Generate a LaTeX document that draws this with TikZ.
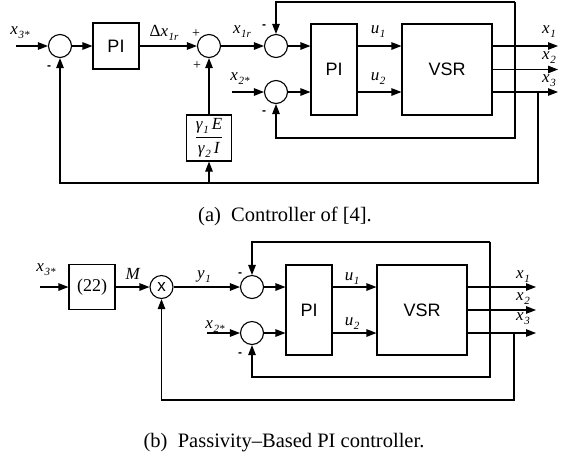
\documentclass[tikz,border=0pt]{standalone}
\usepackage{fontspec}
\setmainfont{Liberation Serif}
\newfontfamily\arialf{Liberation Sans}
\usetikzlibrary{arrows.meta}
\newcommand\vr[2]{\textit{#1}\kern0.5pt\raisebox{-0.5ex}{\fontsize{11}{11}\selectfont\textit{#2}}}
\tikzset{
  box/.style={draw, inner sep=0pt, font=\arialf\fontsize{18}{18}\selectfont},
  sum/.style={circle, draw, minimum size=23pt, inner sep=0pt},
  lbl/.style={inner sep=0pt, font=\fontsize{17}{17}\selectfont},
  sgn/.style={inner sep=0pt, font=\arialf\bfseries\fontsize{12}{12}\selectfont},
  pls/.style={inner sep=0pt, font=\fontsize{14}{14}\selectfont},
  captext/.style={inner sep=0pt, font=\fontsize{20.5}{20.5}\selectfont},
}
\begin{document}
\begin{tikzpicture}[x=1pt, y=-1pt, line width=1.1pt, >={Triangle[length=10pt,width=7.5pt]}]
\useasboundingbox (0,0) rectangle (561,459);
% ---------------- (a) ----------------
\node[sum] (s1) at (60,46) {};
\node[box, minimum width=46pt, minimum height=46pt] (pi1) at (116,46) {PI};
\node[sum] (s2) at (209,46) {};
\node[sum] (s3) at (276,46) {};
\node[sum] (s4) at (276,92) {};
\node[box, minimum width=46pt, minimum height=91pt] (pi2) at (334,69.5) {PI};
\node[box, minimum width=90pt, minimum height=91pt] (vsr) at (447,69.5) {VSR};
\node[draw, inner sep=0pt, minimum width=45pt, minimum height=46pt, font=\fontsize{17}{17}\selectfont] (gain) at (209,138)
  {$\displaystyle\frac{\mbox{\vr{γ}{1}\,\textit{E}}}{\mbox{\vr{γ}{2}\,\textit{I}}}$};
\coordinate (in1) at (16,46);
\coordinate (in2) at (232,92);
\coordinate (o1) at (558,46);
\coordinate (o2) at (558,69.5);
\coordinate (o3) at (558,92);
\coordinate (lt) at (515,2);
\coordinate (lb) at (515,138);
\coordinate (t3) at (538,92);
\coordinate (b3) at (538,183);
\draw[->] (in1) -- (s1);
\draw[->] (s1) -- (pi1);
\draw[->] (pi1) -- (s2);
\draw[->] (s2) -- (s3);
\draw[->] (in2) -- (s4);
\draw[->] (s3) -- (s3 -| pi2.west);
\draw[->] (s4) -- (s4 -| pi2.west);
\draw[->] (s3 -| pi2.east) -- (s3 -| vsr.west);
\draw[->] (s4 -| pi2.east) -- (s4 -| vsr.west);
\draw[->] (s3 -| vsr.east) -- (o1);
\draw[->] (vsr.east) -- (o2);
\draw[->] (s4 -| vsr.east) -- (o3);
\draw[->] (lt) -- (s3 |- lt) -- (s3);
\draw[->] (lt) -- (lb) -- (s4 |- lb) -- (s4);
\draw[->] (t3) -- (b3) -- (s1 |- b3) -- (s1);
\draw[->] (gain |- b3) -- (gain);
\draw[->] (gain) -- (s2);
% labels (a)
\node[lbl] (la1) at (20,33) {\vr{x}{3*}};
\node[sgn] (la2) at (49,68) {-};
\node[lbl] (la3) at (164,33) {Δ\vr{x}{1r}};
\node[pls] (la4) at (196,34) {+};
\node[pls] (la5) at (197,66) {+};
\node[lbl] (la6) at (242,32) {\vr{x}{1r}};
\node[sgn] (la7) at (264,27) {-};
\node[lbl] (la8) at (240,79) {\vr{x}{2*}};
\node[sgn] (la9) at (264,113) {-};
\node[lbl] (la10) at (378,32) {\vr{u}{1}};
\node[lbl] (la11) at (378,79) {\vr{u}{2}};
\node[lbl] (la12) at (549,32) {\vr{x}{1}};
\node[lbl] (la13) at (549,58) {\vr{x}{2}};
\node[lbl] (la14) at (549,81) {\vr{x}{3}};
\node[captext] (capa) at (285,216) {(a)\hspace{0.5em}Controller of [4].};
% ---------------- (b) ----------------
\node[box, font=\fontsize{18}{18}\selectfont, minimum width=46pt, minimum height=45pt] (g22) at (92,287) {(22)};
\node[sum, font=\arialf\fontsize{17}{17}\selectfont] (mx) at (161.5,287) {x};
\node[sum] (s3b) at (252,287) {};
\node[sum] (s4b) at (252,333) {};
\node[box, minimum width=46pt, minimum height=90pt] (pi2b) at (309,310) {PI};
\node[box, minimum width=90pt, minimum height=90pt] (vsrb) at (422,310) {VSR};
\coordinate (in1b) at (40,287);
\coordinate (in2b) at (207,333);
\coordinate (o1b) at (536,287);
\coordinate (o2b) at (536,310);
\coordinate (o3b) at (536,333);
\coordinate (ltb) at (490,242);
\coordinate (lbb) at (490,377);
\coordinate (t3b) at (514,333);
\coordinate (b3b) at (514,400);
\draw[->] (in1b) -- (g22);
\draw[->] (g22) -- (mx);
\draw[->] (mx) -- (s3b);
\draw[->] (in2b) -- (s4b);
\draw[->] (s3b) -- (s3b -| pi2b.west);
\draw[->] (s4b) -- (s4b -| pi2b.west);
\draw[->] (s3b -| pi2b.east) -- (s3b -| vsrb.west);
\draw[->] (s4b -| pi2b.east) -- (s4b -| vsrb.west);
\draw[->] (s3b -| vsrb.east) -- (o1b);
\draw[->] (vsrb.east) -- (o2b);
\draw[->] (s4b -| vsrb.east) -- (o3b);
\draw[->] (ltb) -- (s3b |- ltb) -- (s3b);
\draw[->] (ltb) -- (lbb) -- (s4b |- lbb) -- (s4b);
\draw[->] (t3b) -- (b3b) -- (mx |- b3b) -- (mx);
% labels (b)
\node[lbl] (lb1) at (46,270) {\vr{x}{3*}};
\node[lbl] (lb2) at (133,274) {\textit{M}};
\node[lbl] (lb3) at (204,277) {\vr{y}{1}};
\node[lbl] (lb4) at (215,327) {\vr{x}{2*}};
\node[sgn] (lb5) at (240,275) {-};
\node[sgn] (lb6) at (240,355) {-};
\node[lbl] (lb7) at (352,279) {\vr{u}{1}};
\node[lbl] (lb8) at (352,324) {\vr{u}{2}};
\node[lbl] (lb9) at (523,277) {\vr{x}{1}};
\node[lbl] (lb10) at (523,299) {\vr{x}{2}};
\node[lbl] (lb11) at (523,319) {\vr{x}{3}};
\node[captext] (capb) at (284,443) {(b)\hspace{0.5em}Passivity–Based PI controller.};
\end{tikzpicture}
\end{document}
